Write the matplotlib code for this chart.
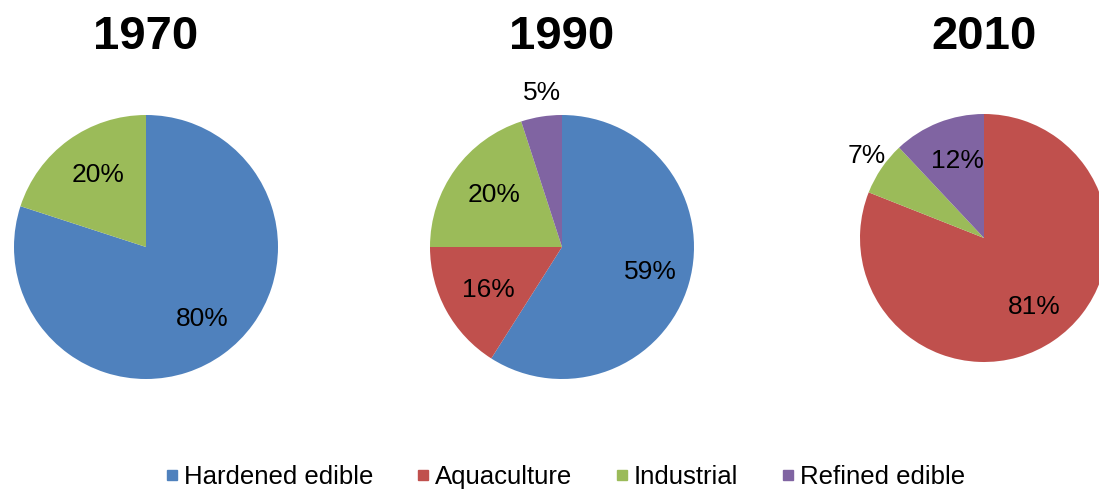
import numpy as np
from matplotlib import pyplot as plt
from matplotlib.lines import Line2D

plt.rcParams['font.family'] = ['Liberation Sans', 'DejaVu Sans']

categories = ['Hardened edible', 'Aquaculture', 'Industrial', 'Refined edible']
colors = ['#4F81BD', '#C0504D', '#9BBB59', '#8064A2']
years = ['1970', '1990', '2010']
shares_1970 = [80, 0, 20, 0]
shares_1990 = [59, 16, 20, 5]
shares_2010 = [0, 81, 7, 12]
all_shares = [shares_1970, shares_1990, shares_2010]

W, H = 1099, 490
fig = plt.figure(figsize=(W / 100, H / 100), dpi=100)

# pie boxes in pixels: (center x, center y, radius)
boxes = [(146, 247, 132), (562, 247, 132), (984, 238, 124)]

for year, shares, (cx, cy, r) in zip(years, all_shares, boxes):
    ax = fig.add_axes([(cx - r) / W, (H - cy - r) / H, 2 * r / W, 2 * r / H])
    wedges, _ = ax.pie(shares, colors=colors, startangle=90, counterclock=False,
                       radius=1.0)
    ax.set_xlim(-1, 1)
    ax.set_ylim(-1, 1)
    ax.set_aspect('equal')
    for w, v in zip(wedges, shares):
        if v == 0:
            continue
        ang = np.deg2rad((w.theta1 + w.theta2) / 2)
        d = 0.67 if v >= 10 else 1.18
        ax.text(d * np.cos(ang) + 0.03, d * np.sin(ang), f'{v}%', ha='center',
                va='center', fontsize=19, clip_on=False)
    fig.text(cx / W, 1 - 37 / H, year, ha='center', va='center',
             fontsize=34, fontweight='bold')

handles = [Line2D([], [], marker='s', linestyle='none', markersize=7,
                  markerfacecolor=c, markeredgecolor=c) for c in colors]
fig.legend(handles, categories, loc='center', bbox_to_anchor=(0.513, 1 - 477 / H),
           ncol=4, frameon=False, fontsize=18.5, handletextpad=0.1,
           columnspacing=1.6, handlelength=0.7)

fig.savefig('out.png', dpi=100)
